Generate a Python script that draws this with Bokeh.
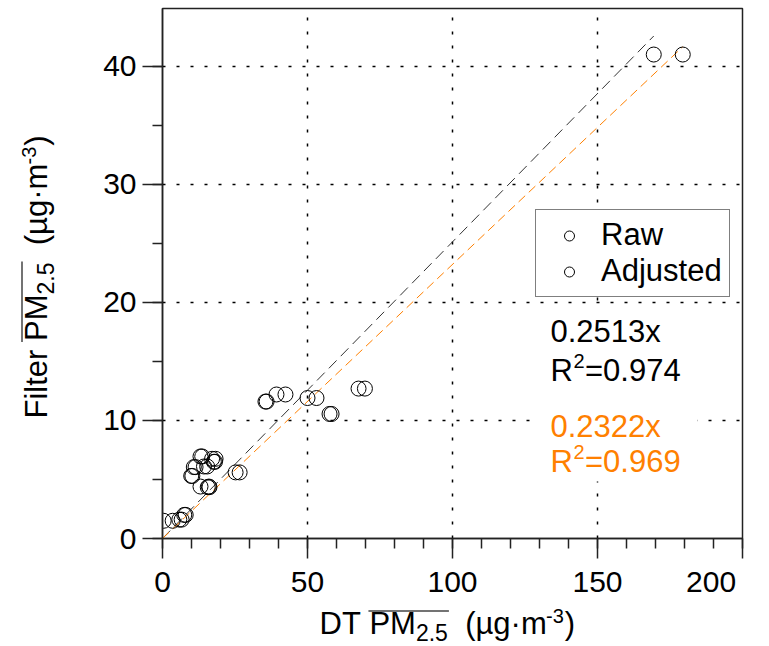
import numpy as np
from bokeh.plotting import figure
from bokeh.models import (Label, Legend, LegendItem, SingleIntervalTicker, Range1d,
                          BoxAnnotation)
from bokeh.core.properties import value
from bokeh.embed import file_html
from bokeh.resources import INLINE

# ---------------- data ----------------
filter_pm25 = [41.0, 12.7, 12.2, 11.9, 11.6, 10.55, 5.6, 4.4, 4.35, 5.3,
               6.05, 6.1, 6.95, 6.75, 6.5, 1.5, 1.6, 2.0]
raw_dt = [169.4, 67.6, 39.3, 50.0, 35.5, 57.6, 25.2, 13.1, 15.6, 9.9,
          10.8, 14.3, 13.1, 17.1, 17.7, 0.4, 5.8, 7.5]
adj_dt = [179.4, 69.8, 42.4, 53.1, 35.9, 58.3, 26.6, 16.0, 16.2, 10.3,
          11.4, 15.4, 13.7, 18.3, 18.1, 3.5, 6.6, 8.0]
slope_raw, r2_raw = 0.2513, 0.974
slope_adj, r2_adj = 0.2322, 0.969
series_names = ["Raw", "Adjusted"]
x_tick_interval, y_tick_interval = 50, 10

# ---------------- layout ----------------
W, H = 769, 646
FL, FR, FT, FB = 162, 742, 8, 538   # frame edges in page pixels
X_MAX, Y_MAX = 200, 44.9
FONT = "Liberation Sans"
ORANGE = "#FF8000"
INK = "#222222"
BASE_SHIFT = 0.35   # fraction of font size: renderer draws "alphabetic" text lower

CW = {' ': 278, 'F': 611, 'i': 222, 'l': 222, 't': 278, 'e': 556, 'r': 333,
      'P': 667, 'M': 833, '2': 556, '.': 278, '5': 556, '(': 333, ')': 333,
      'µ': 576, 'g': 556, '·': 278, 'm': 833, '-': 333, '3': 556, 'D': 722,
      'T': 611, 'R': 722, '=': 584, '0': 556, '1': 556, '4': 556, '7': 556,
      '9': 556, 'x': 500, '6': 556}


def tw(s, size):
    return sum(CW.get(c, 556) for c in s) * size / 1000.0


def dx(px):
    return (px - FL) / (FR - FL) * X_MAX


def dy(py):
    return (FB - py) / (FB - FT) * Y_MAX


p = figure(width=W, height=H, output_backend="svg", toolbar_location=None,
           x_range=Range1d(0, X_MAX), y_range=Range1d(0, Y_MAX),
           min_border_left=FL, min_border_right=W - FR,
           min_border_top=FT, min_border_bottom=H - FB)
p.background_fill_color = "white"
p.border_fill_color = "white"
p.outline_line_color = INK
p.outline_line_width = 1.5

p.xaxis.ticker = SingleIntervalTicker(interval=x_tick_interval, num_minor_ticks=5)
p.yaxis.ticker = SingleIntervalTicker(interval=y_tick_interval, num_minor_ticks=2)
p.xaxis.major_label_overrides = {200: "200\u00a0\u00a0\u00a0\u00a0"}
for ax in (p.xaxis[0], p.yaxis[0]):
    ax.major_tick_out = 20
    ax.major_tick_in = 0
    ax.minor_tick_out = 10
    ax.minor_tick_in = 0
    ax.axis_line_width = 1.5
    ax.axis_line_color = INK
    ax.major_tick_line_width = 1.5
    ax.major_tick_line_color = INK
    ax.minor_tick_line_width = 1.5
    ax.minor_tick_line_color = INK
    ax.major_label_text_font = FONT
    ax.major_label_text_font_size = "30px"
    ax.major_label_text_color = "black"
    ax.major_label_standoff = 6

for g in (p.xgrid[0], p.ygrid[0]):
    g.grid_line_color = "black"
    g.grid_line_dash = "3 11"
    g.grid_line_width = 1.5

# regression lines
xr = [0, max(raw_dt)]
xa = [0, max(adj_dt)]
p.line(xr, [slope_raw * v for v in xr], line_color="#333333", line_width=1,
       line_dash="11 6")
p.line(xa, [slope_adj * v for v in xa], line_color=ORANGE, line_width=1,
       line_dash="9 5")

# data points
r_raw = p.scatter(raw_dt, filter_pm25, size=15, marker="circle", fill_color=None,
                  line_color="black", line_width=1)
r_adj = p.scatter(adj_dt, filter_pm25, size=15, marker="circle", fill_color=None,
                  line_color="black", line_width=1)

legend = Legend(items=[LegendItem(label=n, renderers=[r])
                       for n, r in zip(series_names, [r_raw, r_adj])],
                location=(535 - FL, FB - 297))
legend.label_text_font = FONT
legend.label_text_font_size = "31px"
legend.label_text_color = "black"
legend.label_height = 30
legend.glyph_height = 25
legend.glyph_width = 52
legend.label_standoff = 6
legend.spacing = 0
legend.padding = 7
legend.margin = 0
legend.border_line_color = "black"
legend.border_line_width = 1
legend.background_fill_alpha = 1
p.add_layout(legend)

# white backing box of the fit-annotation text block (hides the grid there)
p.add_layout(BoxAnnotation(left=dx(537), right=dx(697), top=dy(305), bottom=dy(481),
                           fill_color="white", fill_alpha=1, line_color=None))


def txt(s, px, py, size, color="black"):
    p.add_layout(Label(x=dx(px), y=dy(py - BASE_SHIFT * size), text=s,
                       text_font=FONT, text_font_size=f"{size}px",
                       text_color=color, text_align="left",
                       text_baseline="alphabetic"))


# fit annotations
MAIN, SUP = 31, 20
for slope, r2, col, b1, b2 in [(slope_raw, r2_raw, "black", 342, 381),
                               (slope_adj, r2_adj, ORANGE, 437, 472)]:
    txt(f"{slope:.4f}x", 550, b1, MAIN, col)
    txt("R", 550, b2, MAIN, col)
    x2 = 550 + tw("R", MAIN) + 0.5
    txt("2", x2, b2 - 14, SUP, col)
    txt(f"={r2:.3f}", x2 + tw("2", SUP) + 0.5, b2, MAIN, col)


# ---------------- axis titles (overlay-level glyphs, outside the frame) ----------------
AX, SUB, SUPA = 31, 23, 20


def put(s, px, py, size, angle=0.0):
    if angle == 0.0:
        py = py - BASE_SHIFT * size
    else:
        px = px - BASE_SHIFT * size
    p.text(x=[dx(px)], y=[dy(py)], text=[s], text_font=value(FONT),
           text_font_size=value(f"{size}px"), text_color="black",
           angle=angle, text_align="left", text_baseline="alphabetic",
           level="overlay")


def bar(px0, py0, px1, py1):
    p.segment([dx(px0)], [dy(py0)], [dx(px1)], [dy(py1)], line_color="#444444",
              line_width=1.5, level="overlay")


# x title
x0, base = 319, 634
put("DT", x0, base, AX)
xp = x0 + tw("DT ", AX)
put("PM", xp, base, AX)
xs = xp + tw("PM", AX)
put("2.5", xs, base + 6, SUB)
xe = xs + tw("2.5", SUB)
bar(xp - 1, 610.5, xe + 1, 610.5)
xu = xe + tw("  ", AX)
put("(µg·m", xu, base, AX)
xm = xu + tw("(µg·m", AX) + 1
put("-3", xm, base - 12, SUPA)
put(")", xm + tw("-3", SUPA) + 1, base, AX)

# y title (rotated, reading upwards)
ANG = np.pi / 2
bx, y0 = 47, 418
put("Filter", bx, y0, AX, ANG)
yp = y0 - tw("Filter ", AX)
put("PM", bx, yp, AX, ANG)
ys = yp - tw("PM", AX)
put("2.5", bx + 6, ys, SUB, ANG)
ye = ys - tw("2.5", SUB)
bar(21.5, yp + 1, 21.5, ye - 1)
yu = ye - tw("  ", AX)
put("(µg·m", bx, yu, AX, ANG)
ym = yu - tw("(µg·m", AX) - 1
put("-3", bx - 12, ym, SUPA, ANG)
put(")", bx, ym - tw("-3", SUPA) - 1, AX, ANG)

open("out.html", "w").write(file_html(p, INLINE))
